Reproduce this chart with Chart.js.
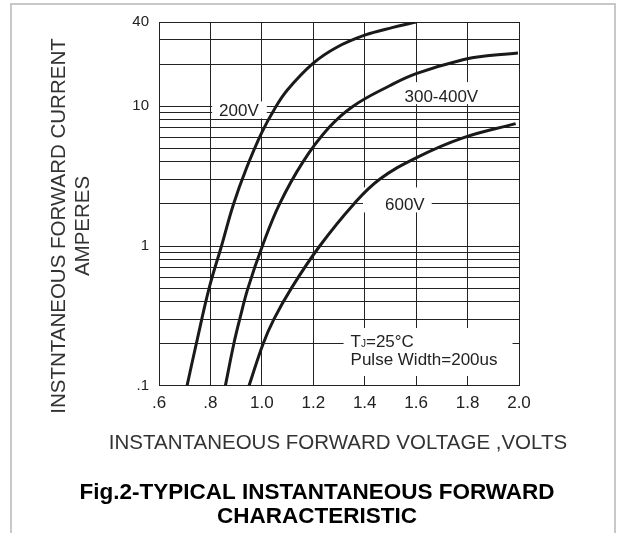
<!DOCTYPE html>
<html>
<head>
<meta charset="utf-8">
<script src="https://cdn.jsdelivr.net/npm/chart.js@4.4.1/dist/chart.umd.min.js"></script>
<style>
  html, body { margin: 0; padding: 0; background: #fff; overflow: hidden; }
  #wrap { position: relative; width: 617px; height: 533px; }
  #frame { position: absolute; left: 10px; top: 3px; width: 602px; height: 560px;
           border: 2px solid #c8c8c8; border-bottom: none; }
  #chart { position: absolute; left: 0; top: 0; }
</style>
</head>
<body>
<div id="wrap">
  <div id="frame"></div>
  <canvas id="chart" width="617" height="533"></canvas>
</div>
<script>
// axis ticks
const voltTicks = [0.6, 0.8, 1.0, 1.2, 1.4, 1.6, 1.8, 2.0];
const voltTickLabels = ['.6', '.8', '1.0', '1.2', '1.4', '1.6', '1.8', '2.0'];
const ampTicks = [0.1, 0.2, 0.3, 0.4, 0.5, 0.6, 0.7, 0.8, 0.9,
                  1, 2, 3, 4, 5, 6, 7, 8, 9, 10, 20, 30, 40];
const ampLabelTicks = [0.1, 1, 10, 40];
const ampTickLabels = ['.1', '1', '10', '40'];

// curves (volts / amperes)
const seriesNames = ['200V', '300-400V', '600V'];
const volts200 = [0.709, 0.745, 0.795, 0.843, 0.89, 0.94, 1.0, 1.05, 1.1, 1.2, 1.29, 1.4, 1.51, 1.6];
const amps200  = [0.1,   0.2,   0.5,   1.0,   2.0,  3.6,  6.5, 9.6,  13.1, 20.3, 26.3, 32.2, 36.6, 40];
const volts300 = [0.858, 0.891, 0.914, 0.946, 1.002, 1.069, 1.16, 1.26, 1.355, 1.497, 1.6,  1.782, 1.886, 1.996];
const amps300  = [0.1,   0.2,   0.3,   0.5,   1.0,   2.0,   4.0,  7.0,  10,    14,    17.1, 21.5,  23.0,  24.0];
const volts600 = [0.95, 1.005, 1.047, 1.115, 1.225, 1.358, 1.458, 1.6,  1.782, 1.987];
const amps600  = [0.1,  0.2,   0.3,   0.5,   1.0,   2.0,   3.0,   4.27, 5.93,  7.5];

const xTitle = 'INSTANTANEOUS FORWARD VOLTAGE ,VOLTS';
const yTitle = ['INSTNTANEOUS FORWARD CURRENT', 'AMPERES'];
const figTitle = ['Fig.2-TYPICAL INSTANTANEOUS FORWARD', 'CHARACTERISTIC'];

const FONT = '"Liberation Sans", Arial, sans-serif';

function toPoints(xs, ys) {
  return xs.map((v, k) => ({ x: v, y: ys[k] }));
}

// white-boxed text labels placed at data coordinates
const curveLabels = {
  id: 'curveLabels',
  beforeDatasetsDraw(chart, args, opts) {
    const { ctx, scales: { x, y } } = chart;
    const size = opts.size;
    ctx.save();
    for (const item of opts.items) {
      const px = x.getPixelForValue(item.x);
      const py = y.getPixelForValue(item.y);
      const widths = item.lines.map(line => line.reduce((w, seg) => {
        ctx.font = (seg.size || size) + 'px ' + FONT;
        return w + ctx.measureText(seg.text).width;
      }, 0));
      const w = Math.max(...widths);
      const h = (item.lines.length - 1) * opts.lineHeight + size;
      const left = item.align === 'left' ? px : px - w / 2;
      const top = py - size / 2;
      const [pl, pt, pr, pb] = item.pad;
      ctx.fillStyle = '#fff';
      ctx.fillRect(left - pl, top - pt, w + pl + pr, h + pt + pb);
      ctx.fillStyle = opts.color;
      ctx.textBaseline = 'alphabetic';
      ctx.textAlign = 'left';
      item.lines.forEach((line, k) => {
        const base = py + k * opts.lineHeight + size * 0.36;
        let cx = left;
        for (const seg of line) {
          ctx.font = (seg.size || size) + 'px ' + FONT;
          ctx.fillText(seg.text, cx, base);
          cx += ctx.measureText(seg.text).width;
        }
      });
    }
    ctx.restore();
  }
};

// axis captions drawn at full width (the built-in scale title squeezes long text)
const axisCaptions = {
  id: 'axisCaptions',
  afterDraw(chart, args, opts) {
    const { ctx } = chart;
    ctx.save();
    ctx.font = opts.size + 'px ' + FONT;
    ctx.fillStyle = opts.color;
    ctx.textAlign = 'center';
    ctx.textBaseline = 'middle';
    for (const cap of opts.items) {
      cap.text.forEach((line, k) => {
        ctx.save();
        if (cap.rotate) {
          ctx.translate(cap.x + k * opts.lineHeight, cap.y);
          ctx.rotate(-Math.PI / 2);
        } else {
          ctx.translate(cap.x, cap.y + k * opts.lineHeight);
        }
        ctx.fillText(line, 0, 0);
        ctx.restore();
      });
    }
    ctx.restore();
  }
};

const lineStyle = {
  borderColor: '#1a1a1a',
  borderWidth: 3,
  pointRadius: 0,
  fill: false,
  tension: 0.4
};

new Chart(document.getElementById('chart'), {
  type: 'line',
  data: {
    datasets: [
      { label: seriesNames[0], data: toPoints(volts200, amps200), ...lineStyle },
      { label: seriesNames[1], data: toPoints(volts300, amps300), ...lineStyle },
      { label: seriesNames[2], data: toPoints(volts600, amps600), ...lineStyle }
    ]
  },
  options: {
    responsive: false,
    animation: false,
    devicePixelRatio: 1,
    layout: { padding: { left: 17, right: 0, top: 22, bottom: 0 } },
    scales: {
      x: {
        type: 'linear',
        min: 0.6,
        max: 2.0,
        afterBuildTicks: axis => { axis.ticks = voltTicks.map(v => ({ value: v })); },
        afterFit: axis => { axis.height = 95; axis.paddingRight = 98; },
        ticks: {
          autoSkip: false,
          maxRotation: 0,
          padding: 7,
          color: '#222',
          font: { family: FONT, size: 17 },
          callback: value => {
            const k = voltTicks.indexOf(value);
            return k >= 0 ? voltTickLabels[k] : '';
          }
        },
        grid: { color: '#222', lineWidth: 1, drawTicks: false },
        border: { color: '#222', width: 1 }
      },
      y: {
        type: 'logarithmic',
        min: 0.1,
        max: 40,
        afterBuildTicks: axis => { axis.ticks = ampTicks.map(v => ({ value: v })); },
        afterFit: axis => { axis.width = 142; },
        ticks: {
          autoSkip: false,
          padding: 10,
          color: '#222',
          font: { family: FONT, size: 15 },
          callback: value => {
            const k = ampLabelTicks.indexOf(value);
            return k >= 0 ? ampTickLabels[k] : '';
          }
        },
        grid: { color: '#222', lineWidth: 1, drawTicks: false },
        border: { color: '#222', width: 1 }
      }
    },
    plugins: {
      legend: { display: false },
      tooltip: { enabled: false },
      title: {
        display: true,
        position: 'bottom',
        text: figTitle,
        color: '#000',
        font: { family: FONT, size: 22.5, weight: 'bold', lineHeight: 1.07 },
        padding: { top: 0, bottom: 4 }
      },
      axisCaptions: {
        size: 20.5,
        lineHeight: 24,
        color: '#333',
        items: [
          { text: yTitle, x: 59, y: 226, rotate: true },
          { text: [xTitle], x: 338, y: 443 }
        ]
      },
      curveLabels: {
        size: 17,
        lineHeight: 18,
        color: '#222',
        items: [
          { x: 0.911, y: 9.4, align: 'center', pad: [7, 0, 8, 0], lines: [[{ text: seriesNames[0] }]] },
          { x: 1.698, y: 11.9, align: 'center', pad: [5, 5, 5, 0], lines: [[{ text: seriesNames[1] }]] },
          { x: 1.556, y: 2.0, align: 'center', pad: [22, 8, 7, 0], lines: [[{ text: seriesNames[2] }]] },
          {
            x: 1.345, y: 0.211, align: 'left', pad: [7, 4, 15, 9],
            lines: [
              [{ text: 'T' }, { text: 'J', size: 10 }, { text: '=25°C' }],
              [{ text: 'Pulse Width=200us' }]
            ]
          }
        ]
      }
    }
  },
  plugins: [curveLabels, axisCaptions]
});
</script>
</body>
</html>
